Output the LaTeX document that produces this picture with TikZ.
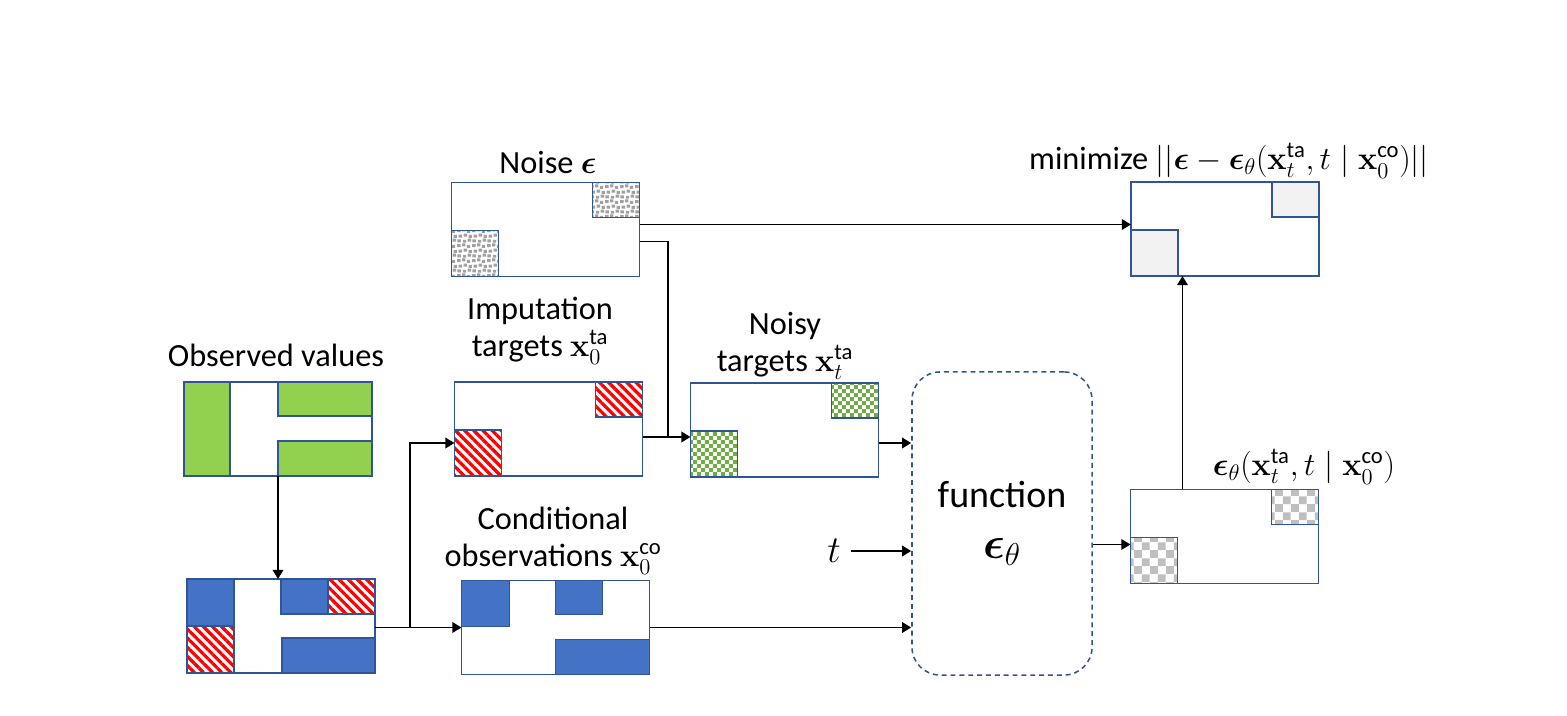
\documentclass[tikz,border=0pt]{standalone}
\usepackage{fix-cm}
\usepackage{amsmath}
\usepackage[no-math]{fontspec}
\setmainfont{Carlito}
\usetikzlibrary{calc,arrows.meta,patterns,patterns.meta}

\definecolor{boxblue}{HTML}{2F5597}
\definecolor{obsblue}{HTML}{4472C4}
\definecolor{obsgreen}{HTML}{92D050}
\definecolor{noisegray}{HTML}{A0A0A0}
\definecolor{checkgreen}{HTML}{70AD47}
\definecolor{checkgray}{HTML}{BFBFBF}
\definecolor{lossgray}{HTML}{F2F2F2}

%% noise dots
\pgfdeclarepatternformonly{noisedots}{\pgfpointorigin}{\pgfqpoint{10.5pt}{10.5pt}}{\pgfqpoint{10.5pt}{10.5pt}}{%
  \foreach \a/\b in {0.3/0.5,4.1/0.2,7.6/1.0,1.2/3.9,4.8/4.6,8.2/3.6,0.1/7.8,3.6/8.3,7.0/7.2}{%
    \pgfpathrectangle{\pgfpoint{\a pt}{\b pt}}{\pgfpoint{2.4pt}{2.1pt}}\pgfusepath{fill}}}
%% checkers
\pgfdeclarepatternformonly{finechecker}{\pgfpointorigin}{\pgfqpoint{5.6pt}{5.6pt}}{\pgfqpoint{5.6pt}{5.6pt}}{%
  \pgfpathrectangle{\pgfpointorigin}{\pgfqpoint{2.8pt}{2.8pt}}%
  \pgfpathrectangle{\pgfqpoint{2.8pt}{2.8pt}}{\pgfqpoint{2.8pt}{2.8pt}}%
  \pgfusepath{fill}}
\pgfdeclarepatternformonly{coarsechecker}{\pgfpointorigin}{\pgfqpoint{11.2pt}{11.2pt}}{\pgfqpoint{11.2pt}{11.2pt}}{%
  \pgfpathrectangle{\pgfpointorigin}{\pgfqpoint{5.6pt}{5.6pt}}%
  \pgfpathrectangle{\pgfqpoint{5.6pt}{5.6pt}}{\pgfqpoint{5.6pt}{5.6pt}}%
  \pgfusepath{fill}}

\begin{document}
\begin{tikzpicture}[x=0.025cm,y=-0.025cm,
                    >={Triangle[length=6.5pt,width=7.5pt]},   % arrow tip
                    font=\fontsize{23}{26}\selectfont,
                    databox/.style={draw=boxblue,line width=1.1pt,fill=white,minimum width=4.7cm,minimum height=2.35cm,inner sep=0pt,outer sep=0pt},
                    patch/.style={draw=boxblue,line width=1.1pt},
                    hatch/.style={pattern={Lines[angle=-45,distance=4.6pt,line width=2.3pt]},pattern color=red},
                    link/.style={line width=1.3pt,->},
                    wire/.style={line width=1.3pt}]

\useasboundingbox (0,0) rectangle (1567,716);

%%%% observed values
\node[databox] (obs) at (278,429) {};
\draw[patch,fill=obsgreen] (obs.north west) rectangle ++(46,94);
\draw[patch,fill=obsgreen] (obs.north east) rectangle ++(-94,34);
\draw[patch,fill=obsgreen] (obs.south east) rectangle ++(-94,-35);
\node (obslbl) at (276,355) {Observed values};

%%%% masked values
\node[databox] (mask) at (281,626) {};
\draw[patch,fill=obsblue] (mask.north west) rectangle ++(47,47);
\draw[patch,hatch] (mask.south west) rectangle ++(47,-47);
\draw[patch,fill=obsblue] (mask.north east) ++(-47,0) rectangle ++(-47,35);
\draw[patch,hatch] (mask.north east) rectangle ++(-47,35);
\draw[patch,fill=obsblue] (mask.south east) rectangle ++(-93,-35);

%%%% noise
\node[databox] (noise) at (545.5,229.5) {};
\draw[patch,pattern=noisedots,pattern color=noisegray] (noise.north east) rectangle ++(-47,35);
\draw[patch,pattern=noisedots,pattern color=noisegray] (noise.south west) rectangle ++(47,-46);
\node (noiselbl) at (548,162) {Noise $\boldsymbol{\epsilon}$};

%%%% imputation targets
\node[databox] (imp) at (548.5,429) {};
\draw[patch,hatch] (imp.north east) rectangle ++(-47,35);
\draw[patch,hatch] (imp.south west) rectangle ++(47,-46);
\node[align=center] (implbl) at (540,331) {Imputation\\targets $\mathbf{x}_0^{\text{ta}}$};

%%%% noisy targets
\node[databox] (noisy) at (784.5,430) {};
\draw[patch,pattern=finechecker,pattern color=checkgreen] (noisy.north east) rectangle ++(-47,35);
\draw[patch,pattern=finechecker,pattern color=checkgreen] (noisy.south west) rectangle ++(47,-46);
\node[align=center] (noisylbl) at (785,346) {Noisy\\targets $\mathbf{x}_t^{\text{ta}}$};

%%%% conditional observations
\node[databox] (cond) at (555.5,627.5) {};
\draw[patch,fill=obsblue] (cond.north west) rectangle ++(48,46);
\draw[patch,fill=obsblue] (cond.north east) ++(-47,0) rectangle ++(-47,34);
\draw[patch,fill=obsblue] (cond.south east) rectangle ++(-94,-35);
\node[align=center] (condlbl) at (553,541) {Conditional\\observations $\mathbf{x}_0^{\text{co}}$};

%%%% function
\node[draw=boxblue,line width=1.1pt,dash pattern=on 3.5pt off 2.8pt,rounded corners=0.7cm,
      minimum width=4.5cm,minimum height=7.575cm,align=center,font=\fontsize{27}{30}\selectfont] (func) at (1002,523.5)
      {function\\[6pt]{\fontsize{32}{34}\selectfont$\boldsymbol{\epsilon}_\theta$}};
\node[font=\fontsize{27}{30}\selectfont] (tlbl) at (834,551) {$t$};

%%%% prediction
\node[databox] (pred) at (1224.5,536.5) {};
\draw[patch,pattern=coarsechecker,pattern color=checkgray] (pred.north east) rectangle ++(-47,35);
\draw[patch,pattern=coarsechecker,pattern color=checkgray] (pred.south west) rectangle ++(47,-46);
\node (predlbl) at (1304,467) {$\boldsymbol{\epsilon}_\theta(\mathbf{x}_t^{\text{ta}},t\mid\mathbf{x}_0^{\text{co}})$};

%%%% loss
\node[databox] (loss) at (1225,229) {};
\draw[patch,fill=lossgray] (loss.north east) rectangle ++(-47,35);
\draw[patch,fill=lossgray] (loss.south west) rectangle ++(47,-46);
\node (losslbl) at (1229,161) {minimize $||\boldsymbol{\epsilon}-\boldsymbol{\epsilon}_\theta(\mathbf{x}_t^{\text{ta}},t\mid\mathbf{x}_0^{\text{co}})||$};

%% ARROWS
\draw[link] (obs.south) -- (obs.south |- mask.north);
\draw[link] (mask.east |- cond.west) -- (cond.west);
\coordinate (fork) at ($(mask.east |- cond.west)!0.4!(cond.west)$);
\draw[link] (fork) |- ([yshift=-0.35cm]imp.west);

\draw[link] ([yshift=-0.2cm]imp.east) -- ([yshift=-0.2cm]imp.east -| noisy.west);
\coordinate (join) at ($([yshift=-0.2cm]imp.east)!0.53!([yshift=-0.2cm]imp.east -| noisy.west)$);
\draw[wire] ([yshift=-0.3cm]noise.east) -| (join);
\draw[link] ([yshift=0.125cm]noise.east) -- ([yshift=0.125cm]noise.east -| loss.west);

\draw[link] ([yshift=-0.325cm]noisy.east) -- ([yshift=-0.325cm]noisy.east -| func.west);
\draw[link,shorten <=4pt] (tlbl.east) -- (tlbl.east -| func.west);
\draw[link] (cond.east) -- (cond.east -| func.west);

\draw[link] ([yshift=-0.2cm]pred.west -| func.east) -- ([yshift=-0.2cm]pred.west);
\draw[link] ([xshift=1.3cm]pred.north west) -- ([xshift=1.3cm]pred.north west |- loss.south);

\end{tikzpicture}
\end{document}
